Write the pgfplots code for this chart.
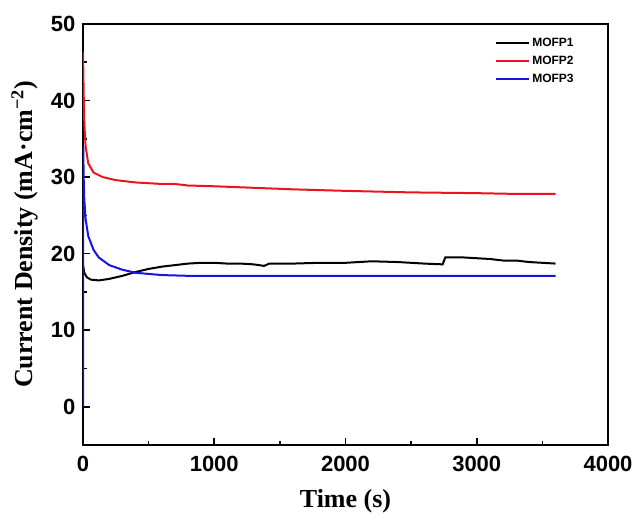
\documentclass[border=0pt]{standalone}
\usepackage{fontspec}
\usepackage{pgfplots}
\pgfplotsset{compat=1.18}
\usetikzlibrary{calc}
\newfontfamily\tickfont{Liberation Sans}
\newfontfamily\labfont{Liberation Serif}
\setmainfont{Liberation Serif}
\definecolor{cred}{RGB}{235,20,30}
\definecolor{cblue}{RGB}{20,20,230}
\begin{document}
\begin{tikzpicture}
\begin{axis}[name=ax,
  scale only axis, width=525pt, height=421pt,
  xmin=0, xmax=4000, ymin=-5, ymax=50,
  xtick={0,1000,2000,3000,4000}, ytick={0,10,20,30,40,50},
  minor x tick num=1, minor y tick num=1,
  tick align=inside, xtick pos=bottom, ytick pos=left,
  major tick length=7pt, minor tick length=4pt,
  every tick/.style={black, line width=1.6pt},
  axis line style={line width=1.6pt},
  /pgf/number format/assume math mode=true,
  /pgf/number format/1000 sep={},
  ticklabel style={font=\tickfont\bfseries\fontsize{22}{22}\selectfont},
  xticklabel style={yshift=-8pt},
  yticklabel style={xshift=-4pt},
  xlabel={\labfont\bfseries\fontsize{26}{26}\selectfont Time (s)},
  ylabel={\labfont\bfseries\fontsize{26}{26}\selectfont Current Density (mA\textperiodcentered cm\textsuperscript{\textminus2})},
  xlabel style={yshift=-10pt},
  ylabel style={yshift=6pt},
  legend style={at={(0.783,0.975)}, anchor=north west, draw=none, fill=none,
    font=\tickfont\bfseries\fontsize{12}{12}\selectfont, row sep=4.5pt,
    inner sep=1pt},
  legend cell align=left,
  legend image code/.code={\draw[#1, line width=2pt] (0pt,0pt) -- (33pt,0pt);},
]
\addplot[black, line width=2pt] coordinates {
(0,18.5)(10,17.5)(30,16.9)(60,16.6)(120,16.5)(200,16.7)(300,17.1)(400,17.6)(500,18.0)(600,18.3)(700,18.5)(800,18.7)(900,18.8)(1000,18.8)(1100,18.7)(1200,18.7)(1300,18.6)(1380,18.4)(1420,18.7)(1600,18.7)(1800,18.8)(2000,18.8)(2200,19.0)(2400,18.9)(2600,18.7)(2740,18.6)(2760,19.5)(2900,19.5)(3100,19.3)(3200,19.1)(3300,19.1)(3400,18.9)(3600,18.7)
};
\addlegendentry{MOFP1}
\addplot[cred, line width=2pt] coordinates {
(0,46.4)(5,41)(10,37)(20,34)(40,31.8)(80,30.6)(150,30.0)(250,29.6)(400,29.3)(600,29.1)(700,29.1)(800,28.9)(1000,28.8)(1300,28.6)(1600,28.4)(2000,28.2)(2500,28.0)(3000,27.9)(3300,27.8)(3600,27.8)
};
\addlegendentry{MOFP2}
\addplot[cblue, line width=2pt] coordinates {
(0,0)(2,34)(5,30)(10,27)(20,24.5)(40,22.3)(80,20.5)(120,19.5)(200,18.5)(300,17.9)(400,17.5)(600,17.2)(800,17.1)(1000,17.1)(2000,17.1)(3000,17.1)(3600,17.1)
};
\addlegendentry{MOFP3}
\end{axis}
\pgfresetboundingbox
\path ($(ax.south west)+(-83pt,-70pt)$) rectangle ($(ax.north east)+(28pt,24pt)$);
\end{tikzpicture}
\end{document}
